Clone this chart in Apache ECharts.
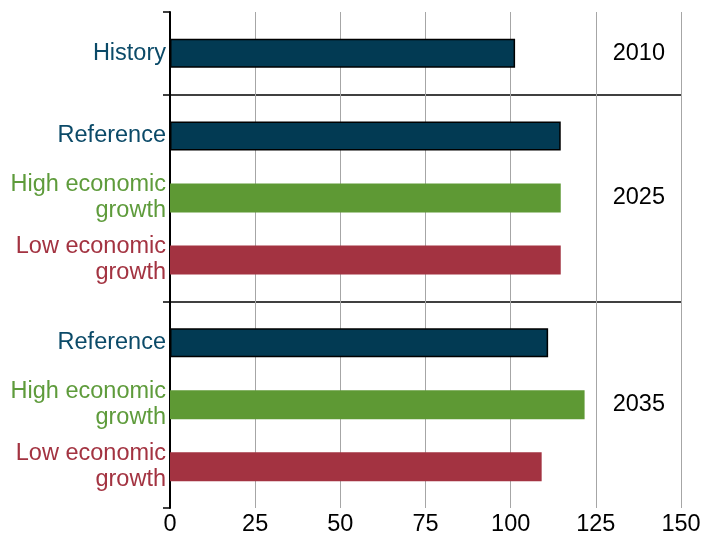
<!DOCTYPE html>
<html>
<head>
<meta charset="utf-8">
<script src="https://cdn.jsdelivr.net/npm/echarts@6/dist/echarts.min.js"></script>
<style>html,body{margin:0;padding:0;background:#fff}#c{width:706px;height:537px}</style>
</head>
<body>
<div id="c"></div>
<script>
// category slots (top to bottom); blanks are spacing slots
const rowLabels = ['', '', 'History', '', '', '', 'Reference', '', '', 'High economic\ngrowth', '', '', 'Low economic\ngrowth', '', '', '', 'Reference', '', '', 'High economic\ngrowth', '', '', 'Low economic\ngrowth', '', ''];
const rowKinds  = ['', '', 'ref', '', '', '', 'ref', '', '', 'high', '', '', 'low', '', '', '', 'ref', '', '', 'high', '', '', 'low', '', ''];
const yearLabels = ['', '', '2010', '', '', '', '', '', '', '2025', '', '', '', '', '', '', '', '', '', '2035', '', '', '', '', ''];
const groupBounds = [0, 4, 14, 24];
const separators = [4, 14];
// values (index in the slot list -> value)
const refValues  = {2: 101.3, 6: 114.7, 16: 111.0};
const highValues = {9: 114.7, 19: 121.7};
const lowValues  = {12: 114.7, 22: 109.1};
const xTicks = [0, 25, 50, 75, 100, 125, 150];

const colors = {ref: '#023A53', high: '#5E9934', low: '#A33341'};
const labelColors = {ref: '#0B4A68', high: '#5E9B3B', low: '#A33341', '': '#000'};

function toSeries(obj) {
  return rowLabels.map((_, i) => (obj[i] !== undefined ? obj[i] : '-'));
}

const cats = rowLabels.map((t, i) => ({value: t, textStyle: {color: labelColors[rowKinds[i]]}}));
const font = 'Liberation Sans, Arial, sans-serif';
const fs = 23.5;

const chart = echarts.init(document.getElementById('c'), null, {renderer: 'canvas'});
chart.setOption({
  animation: false,
  grid: {left: 170, right: 25, top: 12, bottom: 29, containLabel: false},
  xAxis: {
    type: 'value', min: xTicks[0], max: xTicks[xTicks.length - 1], interval: 25,
    axisLine: {show: false}, axisTick: {show: false},
    axisLabel: {color: '#000', fontSize: fs, fontFamily: font, margin: 5},
    splitLine: {show: true, lineStyle: {color: '#A6A6A6', width: 1}}
  },
  yAxis: [{
    type: 'category', inverse: true, boundaryGap: false, data: cats,
    axisLine: {show: true, lineStyle: {color: '#000', width: 2}},
    axisTick: {show: true, length: 7, lineStyle: {color: '#000', width: 1.5},
      interval: (idx) => groupBounds.indexOf(idx) >= 0},
    splitLine: {show: true, lineStyle: {color: '#000', width: 1.5},
      interval: (idx) => separators.indexOf(idx) >= 0},
    axisLabel: {interval: 0, fontSize: fs, fontFamily: font, margin: 4, lineHeight: 26, align: 'right'}
  }, {
    type: 'category', inverse: true, boundaryGap: false, data: yearLabels, position: 'right',
    axisLine: {show: false}, axisTick: {show: false}, splitLine: {show: false},
    axisLabel: {inside: true, interval: 0, fontSize: fs, fontFamily: font, color: '#000', margin: 16}
  }],
  series: [
    {type: 'bar', name: 'Reference', data: toSeries(refValues), barWidth: 29, barGap: '-100%',
     itemStyle: {color: colors.ref, borderColor: '#000', borderWidth: 1.5}},
    {type: 'bar', name: 'High economic growth', data: toSeries(highValues), barWidth: 29, barGap: '-100%',
     itemStyle: {color: colors.high}},
    {type: 'bar', name: 'Low economic growth', data: toSeries(lowValues), barWidth: 29, barGap: '-100%',
     itemStyle: {color: colors.low}}
  ]
});
</script>
</body>
</html>
